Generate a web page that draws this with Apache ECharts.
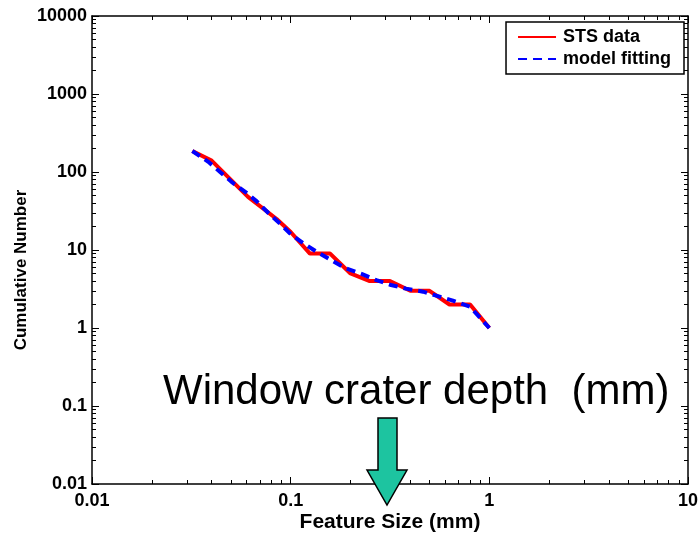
<!DOCTYPE html>
<html>
<head>
<meta charset="utf-8">
<script src="https://cdn.jsdelivr.net/npm/echarts@6/dist/echarts.min.js"></script>
<style>html,body{margin:0;padding:0;background:#fff}#c{width:699px;height:533px}</style>
</head>
<body>
<div id="c"></div>
<script>
// ---- data ----
const stsSize   = [0.032, 0.040, 0.061, 0.085, 0.100, 0.125, 0.158, 0.200, 0.250, 0.316, 0.400, 0.500, 0.630, 0.800, 1.000];
const stsCount  = [186,   140,   48,    25,    17,    9,     9,     5,     4,     4,     3,     3,     2,     2,     1];
const fitSize   = [0.032, 0.0385, 0.044, 0.051, 0.060, 0.0675, 0.077, 0.088, 0.101, 0.116, 0.135, 0.160, 0.190, 0.229, 0.270, 0.320, 0.380, 0.464, 0.656, 0.800, 1.000];
const fitCount  = [186,   135,    101,   73,    54,    42,     30,    22,    15.6,  12.2,  9.5,   7.4,   5.8,   4.9,   4.1,   3.56,  3.2,   2.92,  2.24,  1.87,  1.0];
const xTickLabels = ['0.01', '0.1', '1', '10'];
const yTickLabels = ['0.01', '0.1', '1', '10', '100', '1000', '10000'];
const minorMultipliers = [2, 3, 4, 5, 6, 7, 8, 9];
const xDecades = [0.01, 0.1, 1];
const yDecades = [0.01, 0.1, 1, 10, 100, 1000];
const seriesNames = ['STS data', 'model fitting'];
const annotation = 'Window crater depth  (mm)';

const FONT = '"Liberation Sans", Arial, sans-serif';
const pair = (xs, ys) => xs.map((x, i) => [x, ys[i]]);
const minorOf = decs => decs.flatMap(d => minorMultipliers.map(m => +(m * d).toPrecision(6)));
const xLab = v => xTickLabels[Math.round(Math.log10(v)) + 2] ?? '';
const yLab = v => yTickLabels[Math.round(Math.log10(v)) + 2] ?? '';

const axLine = { show: true, onZero: false, lineStyle: { color: '#000', width: 1.5 } };
const majorTick = { show: true, inside: true, length: 7, lineStyle: { color: '#000', width: 1 } };
const labelStyle = { color: '#000', fontFamily: FONT, fontWeight: 'bold', fontSize: 18 };

function majorAxis(min, max, position, extra) {
  return Object.assign({ type: 'log', logBase: 10, min, max, position,
    axisLine: axLine, axisTick: majorTick, minorTick: { show: false },
    splitLine: { show: false }, axisLabel: { show: false } }, extra || {});
}
function minorAxis(min, max, position, vals) {
  return { type: 'log', logBase: 10, min, max, position,
    axisLine: { show: false, onZero: false },
    axisTick: { show: true, inside: true, length: 4, customValues: vals, lineStyle: { color: '#000', width: 1 } },
    minorTick: { show: false }, splitLine: { show: false }, axisLabel: { show: false } };
}
const xMinor = minorOf(xDecades);
const yMinor = minorOf(yDecades);

const chart = echarts.init(document.getElementById('c'), null, { renderer: 'canvas' });
chart.setOption({
  animation: false,
  backgroundColor: '#fff',
  grid: { left: 92, right: 11, top: 16, bottom: 49, containLabel: false, outerBoundsMode: 'none' },
  xAxis: [
    majorAxis(0.01, 10, 'bottom', {
      name: 'Feature Size (mm)', nameLocation: 'middle', nameGap: 28, nameMoveOverlap: false,
      nameTextStyle: { color: '#000', fontFamily: FONT, fontWeight: 'bold', fontSize: 21 },
      axisLabel: Object.assign({ show: true, formatter: xLab, margin: 8 }, labelStyle) }),
    majorAxis(0.01, 10, 'top'),
    minorAxis(0.01, 10, 'bottom', xMinor),
    minorAxis(0.01, 10, 'top', xMinor)
  ],
  yAxis: [
    majorAxis(0.01, 10000, 'left', {
      name: 'Cumulative Number', nameLocation: 'middle', nameGap: 62, nameMoveOverlap: false,
      nameTextStyle: { color: '#000', fontFamily: FONT, fontWeight: 'bold', fontSize: 17, padding: [0, 40, 0, 0] },
      axisLabel: Object.assign({ show: true, formatter: yLab, margin: 5 }, labelStyle) }),
    majorAxis(0.01, 10000, 'right'),
    minorAxis(0.01, 10000, 'left', yMinor),
    minorAxis(0.01, 10000, 'right', yMinor)
  ],
  legend: {
    data: seriesNames, orient: 'vertical', right: 15, top: 22,
    backgroundColor: '#fff', borderColor: '#000', borderWidth: 1.5, borderRadius: 0,
    padding: [6, 13, 6, 11], itemGap: 4, itemWidth: 38, itemHeight: 14,
    itemStyle: { opacity: 0 },
    textStyle: { color: '#000', fontFamily: FONT, fontWeight: 'bold', fontSize: 18, padding: [0, 0, 0, 2] }
  },
  series: [
    { name: seriesNames[0], type: 'line', data: pair(stsSize, stsCount), symbol: 'none',
      xAxisIndex: 0, yAxisIndex: 0,
      lineStyle: { color: '#ff0000', width: 4 }, itemStyle: { color: '#ff0000' }, z: 2 },
    { name: seriesNames[1], type: 'line', data: pair(fitSize, fitCount), symbol: 'none',
      xAxisIndex: 0, yAxisIndex: 0,
      lineStyle: { color: '#0000ff', width: 4, type: [9, 6] }, itemStyle: { color: '#0000ff' }, z: 3 }
  ],
  graphic: [
    { type: 'text', left: 163, top: 371,
      style: { text: annotation, fill: '#000', font: '42px ' + FONT } },
    { type: 'polygon', z: 10,
      shape: { points: [[378, 418], [397, 418], [397, 470], [407, 470], [387, 505], [367, 470], [378, 470]] },
      style: { fill: '#1dc4a0', stroke: '#000', lineWidth: 1.5 } }
  ]
});
</script>
</body>
</html>
